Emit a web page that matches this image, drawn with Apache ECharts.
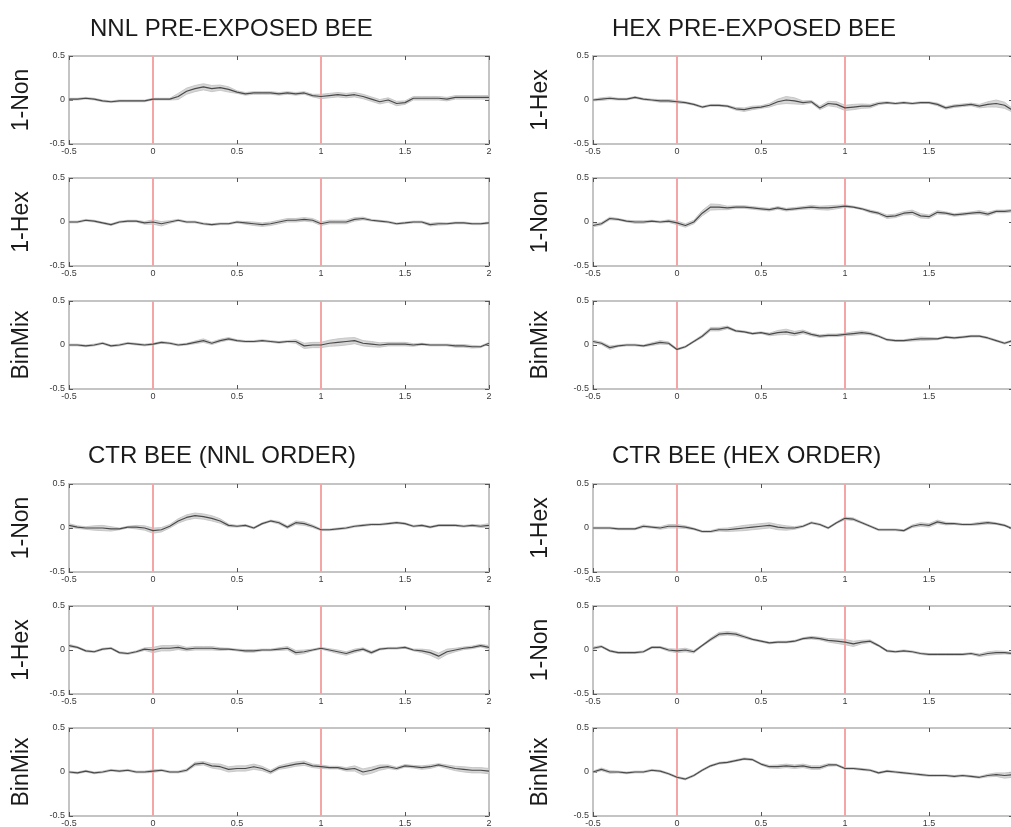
<!DOCTYPE html>
<html>
<head>
<meta charset="utf-8">
<script src="https://cdn.jsdelivr.net/npm/echarts@6/dist/echarts.min.js"></script>
<style>
html,body{margin:0;padding:0;background:#fff;}
#chart{width:1011px;height:827px;}
</style>
</head>
<body>
<div id="chart"></div>
<script>
// ---- DATA ----
const TIME = [-0.5,-0.45,-0.4,-0.35,-0.3,-0.25,-0.2,-0.15,-0.1,-0.05,
  0,0.05,0.1,0.15,0.2,0.25,0.3,0.35,0.4,0.45,
  0.5,0.55,0.6,0.65,0.7,0.75,0.8,0.85,0.9,0.95,
  1,1.05,1.1,1.15,1.2,1.25,1.3,1.35,1.4,1.45,
  1.5,1.55,1.6,1.65,1.7,1.75,1.8,1.85,1.9,1.95,2];

const PANEL_TITLES = ['NNL PRE-EXPOSED BEE','HEX PRE-EXPOSED BEE','CTR BEE (NNL ORDER)','CTR BEE (HEX ORDER)'];
const ROW_LABELS = [['1-Non','1-Hex','BinMix'],['1-Hex','1-Non','BinMix'],['1-Non','1-Hex','BinMix'],['1-Hex','1-Non','BinMix']];
const MARKERS = [0, 1];
const X_MIN = -0.5, X_MAX = 2, X_STEP = 0.5;
const Y_MIN = -0.5, Y_MAX = 0.5, Y_STEP = 0.5;

// NNL pre-exposed bee
const nnl_non = [0.01,0.01,0.02,0.01,-0.01,-0.02,-0.01,-0.01,-0.01,-0.01,
  0.01,0.01,0.01,0.04,0.10,0.13,0.15,0.13,0.14,0.12,
  0.09,0.07,0.08,0.08,0.08,0.07,0.08,0.07,0.08,0.05,
  0.04,0.05,0.06,0.05,0.06,0.04,0.01,-0.02,0.00,-0.04,
  -0.03,0.02,0.02,0.02,0.02,0.01,0.03,0.03,0.03,0.03,0.03];
const nnl_non_se = [0.01,0.01,0.01,0.01,0.01,0.01,0.01,0.01,0.01,0.01,
  0.01,0.01,0.01,0.035,0.035,0.035,0.035,0.035,0.03,0.03,
  0.015,0.015,0.015,0.015,0.015,0.015,0.015,0.015,0.015,0.015,
  0.025,0.025,0.025,0.025,0.025,0.025,0.025,0.025,0.025,0.025,
  0.02,0.02,0.02,0.02,0.02,0.02,0.02,0.02,0.02,0.02,0.02];
const nnl_hex = [0.00,0.00,0.02,0.01,-0.01,-0.03,0.00,0.01,0.01,-0.01,
  0.00,-0.02,0.00,0.02,0.00,0.00,-0.02,-0.03,-0.02,-0.02,
  0.00,-0.01,-0.02,-0.03,-0.02,0.00,0.02,0.02,0.03,0.02,
  -0.02,0.00,0.00,0.00,0.03,0.04,0.02,0.01,0.00,-0.02,
  -0.01,0.00,0.00,-0.03,-0.02,-0.02,-0.01,-0.01,-0.02,-0.02,-0.01];
const nnl_hex_se = [0.01,0.01,0.01,0.01,0.01,0.01,0.01,0.01,0.01,0.015,
  0.025,0.025,0.015,0.01,0.01,0.01,0.01,0.01,0.01,0.01,
  0.01,0.015,0.02,0.02,0.02,0.02,0.02,0.02,0.02,0.02,
  0.02,0.02,0.02,0.02,0.02,0.015,0.01,0.01,0.01,0.01,
  0.01,0.01,0.01,0.015,0.015,0.01,0.01,0.01,0.01,0.01,0.01];
const nnl_bin = [0.00,0.00,-0.01,0.00,0.02,-0.01,0.00,0.02,0.01,0.00,
  0.01,0.03,0.02,0.00,0.01,0.03,0.05,0.02,0.05,0.07,
  0.05,0.04,0.04,0.05,0.04,0.03,0.04,0.04,-0.01,0.00,
  0.00,0.02,0.03,0.04,0.05,0.02,0.01,0.00,0.01,0.01,
  0.01,0.00,0.01,0.00,0.00,0.00,-0.01,-0.01,-0.02,-0.02,0.02];
const nnl_bin_se = [0.01,0.01,0.01,0.01,0.01,0.01,0.01,0.01,0.01,0.01,
  0.01,0.01,0.01,0.01,0.01,0.015,0.02,0.015,0.015,0.015,
  0.01,0.01,0.01,0.01,0.01,0.01,0.01,0.02,0.03,0.03,
  0.03,0.035,0.04,0.04,0.035,0.03,0.03,0.025,0.02,0.02,
  0.02,0.015,0.01,0.01,0.01,0.01,0.015,0.015,0.015,0.01,0.01];

// HEX pre-exposed bee
const hex_hex = [0.00,0.01,0.02,0.01,0.01,0.03,0.01,0.00,-0.01,-0.01,
  -0.02,-0.03,-0.05,-0.08,-0.06,-0.06,-0.07,-0.10,-0.11,-0.09,
  -0.08,-0.06,-0.02,0.00,-0.01,-0.03,-0.02,-0.09,-0.04,-0.05,
  -0.09,-0.08,-0.07,-0.07,-0.04,-0.03,-0.04,-0.03,-0.04,-0.03,
  -0.03,-0.05,-0.09,-0.07,-0.06,-0.05,-0.07,-0.05,-0.04,-0.06,-0.12];
const hex_hex_se = [0.01,0.015,0.015,0.01,0.01,0.01,0.01,0.01,0.015,0.015,
  0.015,0.01,0.01,0.01,0.01,0.01,0.01,0.015,0.02,0.02,
  0.015,0.02,0.03,0.04,0.035,0.02,0.015,0.02,0.025,0.03,
  0.03,0.03,0.025,0.02,0.015,0.01,0.01,0.01,0.01,0.01,
  0.01,0.015,0.015,0.015,0.015,0.015,0.02,0.03,0.04,0.035,0.02];
const hex_non = [-0.04,-0.02,0.04,0.03,0.01,0.00,0.00,0.01,0.00,0.01,
  -0.01,-0.04,0.00,0.10,0.17,0.17,0.16,0.17,0.17,0.16,
  0.15,0.14,0.16,0.14,0.15,0.16,0.17,0.16,0.16,0.17,
  0.18,0.17,0.15,0.12,0.10,0.06,0.07,0.10,0.11,0.07,
  0.06,0.11,0.10,0.08,0.09,0.10,0.11,0.09,0.12,0.12,0.13];
const hex_non_se = [0.015,0.015,0.015,0.01,0.01,0.015,0.015,0.01,0.01,0.015,
  0.02,0.02,0.02,0.03,0.035,0.03,0.02,0.015,0.015,0.015,
  0.015,0.015,0.015,0.015,0.015,0.015,0.02,0.02,0.025,0.02,
  0.015,0.01,0.01,0.015,0.015,0.02,0.02,0.02,0.025,0.025,
  0.02,0.02,0.015,0.015,0.015,0.015,0.02,0.02,0.015,0.015,0.015];
const hex_bin = [0.04,0.02,-0.03,-0.01,0.00,0.00,-0.01,0.01,0.03,0.02,
  -0.05,-0.02,0.04,0.10,0.18,0.18,0.20,0.16,0.15,0.13,
  0.14,0.12,0.14,0.15,0.13,0.15,0.12,0.10,0.11,0.11,
  0.12,0.13,0.14,0.13,0.10,0.06,0.05,0.05,0.06,0.07,
  0.07,0.07,0.09,0.08,0.09,0.10,0.10,0.08,0.05,0.02,0.05];
const hex_bin_se = [0.015,0.015,0.02,0.01,0.01,0.01,0.01,0.015,0.02,0.015,
  0.01,0.01,0.01,0.015,0.02,0.02,0.015,0.01,0.01,0.01,
  0.01,0.015,0.025,0.03,0.025,0.02,0.015,0.015,0.015,0.015,
  0.015,0.02,0.02,0.015,0.01,0.01,0.01,0.01,0.015,0.02,
  0.015,0.01,0.01,0.01,0.01,0.01,0.01,0.01,0.01,0.01,0.01];

// CTR bee (NNL order)
const ctrn_non = [0.03,0.01,0.00,0.00,0.00,-0.01,-0.01,0.01,0.01,0.00,
  -0.03,-0.02,0.02,0.08,0.12,0.14,0.13,0.11,0.08,0.03,
  0.02,0.03,0.00,0.05,0.08,0.06,0.01,0.06,0.05,0.02,
  -0.02,-0.02,-0.01,0.00,0.02,0.03,0.04,0.04,0.05,0.06,
  0.05,0.02,0.03,0.01,0.03,0.03,0.03,0.02,0.03,0.02,0.03];
const ctrn_non_se = [0.02,0.015,0.015,0.025,0.03,0.025,0.01,0.01,0.02,0.025,
  0.03,0.025,0.02,0.025,0.03,0.03,0.03,0.03,0.025,0.015,
  0.01,0.01,0.01,0.01,0.01,0.015,0.015,0.02,0.02,0.015,
  0.01,0.01,0.01,0.01,0.01,0.01,0.01,0.01,0.01,0.01,
  0.01,0.01,0.01,0.01,0.01,0.01,0.01,0.01,0.01,0.015,0.02];
const ctrn_hex = [0.05,0.03,-0.01,-0.02,0.01,0.02,-0.03,-0.04,-0.02,0.01,
  0.00,0.02,0.02,0.03,0.01,0.02,0.02,0.02,0.01,0.01,
  0.00,-0.01,-0.01,0.00,0.00,0.01,0.02,-0.03,-0.02,0.00,
  0.02,0.00,-0.02,-0.04,-0.01,0.01,-0.03,0.01,0.02,0.02,
  0.03,0.00,-0.01,-0.03,-0.07,-0.02,0.00,0.02,0.03,0.05,0.03];
const ctrn_hex_se = [0.015,0.01,0.01,0.01,0.01,0.01,0.01,0.01,0.01,0.015,
  0.03,0.03,0.03,0.025,0.02,0.02,0.02,0.02,0.015,0.01,
  0.01,0.015,0.015,0.01,0.01,0.015,0.02,0.025,0.02,0.01,
  0.01,0.015,0.02,0.02,0.02,0.015,0.015,0.01,0.01,0.01,
  0.01,0.01,0.02,0.03,0.035,0.03,0.02,0.015,0.015,0.015,0.02];
const ctrn_bin = [0.00,-0.01,0.01,-0.01,0.00,0.02,0.01,0.02,0.00,0.00,
  0.01,0.02,0.00,0.00,0.02,0.09,0.10,0.07,0.06,0.03,
  0.04,0.04,0.06,0.04,0.00,0.05,0.07,0.09,0.10,0.07,
  0.06,0.05,0.05,0.03,0.04,0.00,0.02,0.05,0.06,0.04,
  0.07,0.06,0.05,0.06,0.08,0.06,0.04,0.03,0.02,0.02,0.01];
const ctrn_bin_se = [0.01,0.01,0.01,0.01,0.01,0.01,0.01,0.01,0.01,0.01,
  0.015,0.01,0.01,0.01,0.015,0.02,0.02,0.025,0.03,0.03,
  0.03,0.03,0.03,0.025,0.02,0.02,0.025,0.025,0.025,0.02,
  0.02,0.015,0.015,0.02,0.03,0.035,0.035,0.03,0.02,0.015,
  0.015,0.015,0.02,0.02,0.015,0.02,0.025,0.03,0.03,0.03,0.03];

// CTR bee (HEX order)
const ctrh_hex = [0.00,0.00,0.00,-0.01,-0.01,-0.01,0.02,0.01,0.00,0.02,
  0.02,0.01,-0.01,-0.04,-0.04,-0.02,-0.02,-0.01,0.00,0.01,
  0.02,0.03,0.01,0.00,0.00,0.02,0.06,0.04,0.00,0.06,
  0.11,0.10,0.06,0.02,-0.02,-0.02,-0.02,-0.03,0.02,0.04,
  0.03,0.07,0.05,0.05,0.04,0.04,0.05,0.06,0.05,0.03,-0.01];
const ctrh_hex_se = [0.01,0.01,0.01,0.01,0.01,0.01,0.015,0.01,0.015,0.02,
  0.02,0.015,0.01,0.01,0.01,0.015,0.02,0.025,0.03,0.03,
  0.03,0.03,0.03,0.025,0.015,0.01,0.01,0.01,0.01,0.01,
  0.015,0.015,0.01,0.01,0.01,0.01,0.01,0.01,0.015,0.02,
  0.02,0.02,0.015,0.01,0.01,0.01,0.015,0.015,0.01,0.01,0.01];
const ctrh_non = [0.02,0.04,-0.01,-0.03,-0.03,-0.03,-0.02,0.03,0.03,0.00,
  -0.01,0.00,-0.02,0.05,0.12,0.18,0.19,0.18,0.15,0.12,
  0.10,0.08,0.09,0.09,0.10,0.13,0.14,0.13,0.11,0.10,
  0.09,0.07,0.09,0.10,0.05,-0.01,-0.02,-0.01,-0.02,-0.04,
  -0.05,-0.05,-0.05,-0.05,-0.05,-0.04,-0.06,-0.04,-0.03,-0.03,-0.04];
const ctrh_non_se = [0.015,0.01,0.01,0.01,0.01,0.01,0.01,0.01,0.01,0.015,
  0.02,0.02,0.015,0.01,0.015,0.02,0.02,0.02,0.015,0.01,
  0.01,0.01,0.01,0.01,0.01,0.01,0.015,0.015,0.02,0.025,
  0.03,0.03,0.02,0.015,0.01,0.01,0.01,0.01,0.01,0.01,
  0.01,0.01,0.01,0.01,0.01,0.01,0.015,0.02,0.02,0.015,0.01];
const ctrh_bin = [0.00,0.03,0.00,0.00,-0.01,0.00,0.00,0.02,0.01,-0.02,
  -0.06,-0.08,-0.04,0.02,0.07,0.10,0.11,0.13,0.15,0.14,
  0.09,0.06,0.06,0.07,0.06,0.07,0.05,0.05,0.08,0.08,
  0.04,0.04,0.03,0.02,-0.01,0.01,0.00,-0.01,-0.02,-0.03,
  -0.04,-0.04,-0.04,-0.05,-0.04,-0.05,-0.06,-0.04,-0.03,-0.04,-0.03];
const ctrh_bin_se = [0.01,0.015,0.015,0.01,0.01,0.01,0.01,0.01,0.01,0.01,
  0.01,0.01,0.01,0.01,0.01,0.01,0.01,0.01,0.01,0.01,
  0.01,0.015,0.02,0.02,0.02,0.02,0.02,0.02,0.015,0.01,
  0.01,0.01,0.01,0.01,0.01,0.01,0.01,0.01,0.01,0.01,
  0.01,0.01,0.01,0.01,0.01,0.01,0.01,0.015,0.02,0.03,0.03];

const PANEL_MEANS = [[nnl_non,nnl_hex,nnl_bin],[hex_hex,hex_non,hex_bin],[ctrn_non,ctrn_hex,ctrn_bin],[ctrh_hex,ctrh_non,ctrh_bin]];
const PANEL_SE = [[nnl_non_se,nnl_hex_se,nnl_bin_se],[hex_hex_se,hex_non_se,hex_bin_se],[ctrn_non_se,ctrn_hex_se,ctrn_bin_se],[ctrh_hex_se,ctrh_non_se,ctrh_bin_se]];

// ---- LAYOUT ----
const COL_LEFT = [69, 593];
const BLOCK_TOPS = [[56,178,301],[484,606,728]];
const PLOT_W = 420, PLOT_H = 88;
const TITLE_POS = [[85,12],[607,12],[83,439],[607,439]];
const NAME_GAP = [36, 41];
const FONT = "'Liberation Sans', Arial, sans-serif";

function bandSeries(g, lower, upper) {
  return {
    type: 'custom', xAxisIndex: 2 * g, yAxisIndex: 2 * g, silent: true, clip: true, z: 1,
    data: TIME.map((t, k) => [t, lower[k], upper[k]]),
    encode: {x: 0, y: [1, 2]},
    renderItem: function (params, api) {
      if (params.dataIndex !== 0) return null;
      const top = [], bot = [];
      for (let k = 0; k < TIME.length; k++) {
        top.push(api.coord([TIME[k], upper[k]]));
        bot.push(api.coord([TIME[k], lower[k]]));
      }
      return {type: 'polygon', shape: {points: top.concat(bot.reverse())},
        style: {fill: '#d6d6d6', stroke: '#bfbfbf', lineWidth: 0.8}};
    }
  };
}

const grids = [], xAxes = [], yAxes = [], series = [], titles = [];
let g = 0;
for (let p = 0; p < 4; p++) {
  const col = p % 2, block = Math.floor(p / 2);
  titles.push({text: PANEL_TITLES[p], left: TITLE_POS[p][0], top: TITLE_POS[p][1],
    textStyle: {fontSize: 24, fontWeight: 'normal', color: '#1a1a1a', fontFamily: FONT}});
  for (let r = 0; r < 3; r++) {
    grids.push({left: COL_LEFT[col], top: BLOCK_TOPS[block][r], width: PLOT_W, height: PLOT_H,
      outerBoundsMode: 'none', containLabel: false,
      show: true, borderColor: '#c4c4c4', borderWidth: 2, backgroundColor: '#fff'});
    const tick = {show: true, inside: true, length: 4, lineStyle: {color: '#555', width: 1}};
    const noLine = {show: false, onZero: false};
    xAxes.push({type: 'value', gridIndex: g, min: X_MIN, max: X_MAX, interval: X_STEP, position: 'bottom',
      axisLine: noLine, axisTick: tick, splitLine: {show: false},
      axisLabel: {fontSize: 9, color: '#3a3a3a', margin: 3, fontFamily: FONT}});
    xAxes.push({type: 'value', gridIndex: g, min: X_MIN, max: X_MAX, interval: X_STEP, position: 'top',
      axisLine: noLine, axisTick: tick, splitLine: {show: false}, axisLabel: {show: false}});
    yAxes.push({type: 'value', gridIndex: g, min: Y_MIN, max: Y_MAX, interval: Y_STEP, position: 'left',
      axisLine: noLine, axisTick: tick, splitLine: {show: false},
      axisLabel: {fontSize: 9, color: '#3a3a3a', margin: 4, fontFamily: FONT},
      name: ROW_LABELS[p][r], nameLocation: 'middle', nameRotate: 90, nameGap: NAME_GAP[col],
      nameTextStyle: {fontSize: 23, color: '#1a1a1a', fontFamily: FONT}});
    yAxes.push({type: 'value', gridIndex: g, min: Y_MIN, max: Y_MAX, interval: Y_STEP, position: 'right',
      axisLine: noLine, axisTick: tick, splitLine: {show: false}, axisLabel: {show: false}});
    const mean = PANEL_MEANS[p][r], se = PANEL_SE[p][r];
    const lower = mean.map((m, k) => m - se[k]);
    const upper = mean.map((m, k) => m + se[k]);
    series.push(bandSeries(g, lower, upper));
    series.push({type: 'line', xAxisIndex: 2 * g, yAxisIndex: 2 * g, z: 3,
      data: TIME.map((t, k) => [t, mean[k]]), symbol: 'none', silent: true,
      lineStyle: {color: '#4a4a4a', width: 1.2},
      markLine: {silent: true, symbol: 'none', label: {show: false}, z: 2,
        lineStyle: {color: '#f4a6a6', width: 2, type: 'solid'},
        data: MARKERS.map(v => ({xAxis: v}))}});
    g++;
  }
}

const chart = echarts.init(document.getElementById('chart'), null, {renderer: 'canvas'});
chart.setOption({
  animation: false,
  backgroundColor: '#fff',
  title: titles,
  grid: grids,
  xAxis: xAxes,
  yAxis: yAxes,
  series: series
});
</script>
</body>
</html>
